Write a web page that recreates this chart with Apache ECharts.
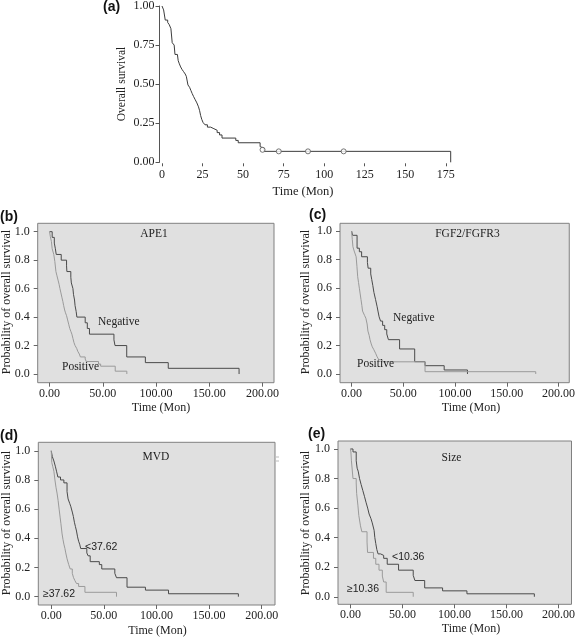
<!DOCTYPE html>
<html><head><meta charset="utf-8">
<script src="https://cdn.jsdelivr.net/npm/echarts@6/dist/echarts.min.js"></script>
<style>html,body{margin:0;padding:0;background:#fff}#c{width:578px;height:639px}</style>
</head><body><div id="c"></div>
<script>
// ---------- DATA ----------
// (a) overall survival
const aTime = [0,1,2,3.5,4.5,5.5,6.3,7.5,8,9.5,10,10.7,11.5,12.3,13.3,14.3,15,16,17,17.8,18.6,19.5,20.5,21.5,22.5,23.2,23.8,24.5,25.3,26.5,28,30,32,34,35.5,37,45.5,47,60.5,61.5,63,178];
const aSurv = [1,0.975,0.91,0.895,0.88,0.855,0.765,0.75,0.69,0.68,0.65,0.63,0.61,0.595,0.58,0.565,0.55,0.495,0.48,0.46,0.44,0.42,0.40,0.38,0.355,0.33,0.30,0.275,0.255,0.24,0.225,0.215,0.205,0.19,0.175,0.155,0.14,0.125,0.10,0.09,0.07,0];
const aCensorTime = [62,72,90,112];
const aCensorSurv = [0.08,0.07,0.07,0.07];
// (b) APE1
const bNegTime = [0,2.5,4.5,5.5,6.3,11,16,16.3,20,20.5,22,22.5,23.5,24,25,25.7,33.5,35.5,37.5,60.5,61.5,72.5,90,111.5,178];
const bNegSurv = [1,0.96,0.92,0.88,0.84,0.80,0.76,0.72,0.68,0.64,0.60,0.56,0.52,0.48,0.44,0.40,0.36,0.32,0.28,0.24,0.20,0.12,0.08,0.04,0];
const bPosTime = [0,0.8,1.8,2.5,4,5,6,7,8,9,9.8,10.7,11.6,12.5,13.3,14.2,15,16,17,18,19,20,21,22,23,24,25.5,26.5,28,29,33.5,34.5,46,48,61.7,72.6];
const bPosSurv = [1,0.965,0.93,0.88,0.84,0.79,0.72,0.69,0.66,0.63,0.60,0.57,0.54,0.51,0.48,0.45,0.43,0.41,0.38,0.35,0.32,0.30,0.28,0.25,0.22,0.20,0.18,0.16,0.14,0.12,0.105,0.088,0.07,0.055,0.02,0];
// (c) FGF2/FGFR3
const cNegTime = [0,1,5.3,7.5,9.7,15.3,16,18.5,19.5,20.5,21.6,23.2,24.7,25.5,26.6,28,30,32,34,35.6,46.4,61,71,89.5,112];
const cNegSurv = [1,0.97,0.88,0.855,0.82,0.78,0.74,0.70,0.66,0.62,0.57,0.52,0.47,0.44,0.40,0.37,0.34,0.31,0.28,0.24,0.175,0.086,0.058,0.028,0];
const cPosTime = [0,0.7,1.3,2.5,4.4,5.2,5.9,6.7,7.5,8.3,9.1,9.9,10.6,12.5,13.8,15,15.8,17,17.8,19,20,21.5,23.2,24.7,26.3,29.6,71,178];
const cPosSurv = [1,0.94,0.89,0.86,0.82,0.75,0.68,0.64,0.60,0.56,0.52,0.48,0.44,0.41,0.39,0.35,0.30,0.27,0.24,0.21,0.19,0.17,0.145,0.12,0.10,0.085,0.016,0];
// (d) MVD
const dLowTime = [0,1,2.5,4,5,6.3,8.8,12,15,16,17.5,18.5,20,21,22,23,24,25,26,27,28,33.8,35,37,45.7,48,60.4,62,72,89.5,111.4,177.8];
const dLowSurv = [1,0.96,0.93,0.89,0.86,0.82,0.80,0.78,0.72,0.67,0.64,0.62,0.58,0.55,0.51,0.48,0.45,0.41,0.38,0.36,0.33,0.30,0.28,0.24,0.22,0.19,0.16,0.13,0.065,0.045,0.02,0];
const dHighTime = [0,0.5,1.5,2.5,3.5,4.5,5.5,6.5,7.5,8.5,9.2,10.3,11.2,12,13,13.8,15,16.6,18,20,21.2,22.5,24,26,32,62];
const dHighSurv = [1,0.92,0.89,0.86,0.80,0.75,0.71,0.66,0.60,0.54,0.50,0.43,0.39,0.36,0.33,0.30,0.26,0.22,0.19,0.16,0.13,0.11,0.09,0.07,0.03,0];
// (e) Size
const eLowTime = [0,2.5,5.6,6.5,7.5,8.8,10.3,11.9,13.5,15,16.6,18,19.7,21,22.8,23.5,24.4,25.4,26.6,29,32,35.4,46.3,60.4,62,71.4,88.6,112,176.8];
const eLowSurv = [1,0.98,0.92,0.87,0.85,0.80,0.76,0.72,0.68,0.64,0.60,0.56,0.53,0.50,0.45,0.40,0.36,0.32,0.29,0.28,0.26,0.22,0.18,0.145,0.11,0.06,0.04,0.02,0];
const eHighTime = [0,0.5,1,2.5,5.6,6,7.2,8.1,9.7,11,16,16.5,22.2,24.4,27.5,30.7,32,34.4,60.4];
const eHighSurv = [1,0.98,0.92,0.80,0.77,0.70,0.62,0.55,0.48,0.44,0.37,0.30,0.26,0.22,0.18,0.14,0.10,0.03,0];
// tick labels
const aXTicks = [0,25,50,75,100,125,150,175];
const aYTicks = [0,0.25,0.5,0.75,1];
const panXTicks = [0,50,100,150,200];
const panYTicks = [0,0.2,0.4,0.6,0.8,1.0];

// ---------- CHART ----------
const zip = (t, s) => t.map((v, i) => [v, s[i]]);
const SERIF = 'Liberation Serif';
const SANS = 'Liberation Sans';
const DARK = '#4a4a4a', LIGHT = '#9a9a9a';

const panels = [
  {left:37.7, top:223.3, width:236.3, height:159.4, xmin:-11.1, xmax:210.8, ymin:-0.061, ymax:1.059},
  {left:340, top:223.3, width:234, height:159.4, xmin:-11.2, xmax:210.4, ymin:-0.061, ymax:1.054},
  {left:38.3, top:442.3, width:236.7, height:162.7, xmin:-12.3, xmax:212.6, ymin:-0.057, ymax:1.058},
  {left:338, top:441, width:236.7, height:163.3, xmin:-11.9, xmax:212.5, ymin:-0.051, ymax:1.054}
];

const grid = [{left:159.5, top:6, width:291.2, height:156.3, show:false}];
const xAxis = [{
  type:'value', gridIndex:0, min:-1.54, max:178, offset:1, position:'bottom',
  axisLine:{show:false, onZero:false}, splitLine:{show:false},
  axisTick:{show:true, length:3, customValues:aXTicks, lineStyle:{color:'#555'}},
  axisLabel:{customValues:aXTicks, margin:6, fontFamily:SERIF, fontSize:12, color:'#222'}
}];
const yAxis = [{
  type:'value', gridIndex:0, min:0, max:1, position:'left',
  axisLine:{show:true, onZero:false, lineStyle:{color:'#555'}}, splitLine:{show:false},
  axisTick:{show:true, length:4, customValues:aYTicks, lineStyle:{color:'#555'}},
  axisLabel:{customValues:aYTicks, margin:5, fontFamily:SERIF, fontSize:12, color:'#222', formatter:v=>v.toFixed(2)}
}];
panels.forEach((p, i) => {
  grid.push({left:p.left, top:p.top, width:p.width, height:p.height, show:true,
    backgroundColor:'#e0e0e0', borderColor:'#808080', borderWidth:1});
  xAxis.push({type:'value', gridIndex:i+1, min:p.xmin, max:p.xmax, position:'bottom',
    axisLine:{show:false, onZero:false}, splitLine:{show:false},
    axisTick:{show:true, length:4, customValues:panXTicks, lineStyle:{color:'#666'}},
    axisLabel:{customValues:panXTicks, margin:5, fontFamily:SERIF, fontSize:12, color:'#222', formatter:v=>v.toFixed(2)}});
  yAxis.push({type:'value', gridIndex:i+1, min:p.ymin, max:p.ymax, position:'left',
    axisLine:{show:false, onZero:false}, splitLine:{show:false},
    axisTick:{show:true, length:4, customValues:panYTicks, lineStyle:{color:'#666'}},
    axisLabel:{customValues:panYTicks, margin:8, fontFamily:SERIF, fontSize:12, color:'#222', formatter:v=>v.toFixed(1)}});
});

function km(name, idx, t, s, color) {
  return {name, type:'line', step:'end', xAxisIndex:idx, yAxisIndex:idx, data:zip(t, s),
    showSymbol:false, symbol:'none', clip:false, lineStyle:{width:1, color}, itemStyle:{color}, z:3};
}
const series = [
  km('Overall', 0, aTime, aSurv, '#3c3c3c'),
  {name:'Censored', type:'scatter', xAxisIndex:0, yAxisIndex:0, data:zip(aCensorTime, aCensorSurv),
    symbol:'circle', symbolSize:5, itemStyle:{color:'#ffffff', borderColor:'#555', borderWidth:1}, z:4},
  km('APE1 Negative', 1, bNegTime, bNegSurv, DARK),
  km('APE1 Positive', 1, bPosTime, bPosSurv, LIGHT),
  km('FGF2/FGFR3 Negative', 2, cNegTime, cNegSurv, DARK),
  km('FGF2/FGFR3 Positive', 2, cPosTime, cPosSurv, LIGHT),
  km('MVD <37.62', 3, dLowTime, dLowSurv, DARK),
  km('MVD ≥37.62', 3, dHighTime, dHighSurv, LIGHT),
  km('Size <10.36', 4, eLowTime, eLowSurv, DARK),
  km('Size ≥10.36', 4, eHighTime, eHighSurv, LIGHT)
];

function txt(x, y, text, opt) {
  opt = opt || {};
  return {type:'text', x, y, rotation:opt.rot || 0, z:10,
    style:{text, fontFamily:opt.font || SERIF, fontSize:opt.size || 12, fontWeight:opt.weight || 'normal',
      fill:opt.color || '#222', textAlign:opt.align || 'left', textVerticalAlign:'middle'}};
}
const R = Math.PI / 2;
const graphic = [
  txt(103, 7, '(a)', {font:SANS, weight:'bold', size:14, color:'#111'}),
  txt(0, 217, '(b)', {font:SANS, weight:'bold', size:14, color:'#111'}),
  txt(309, 215, '(c)', {font:SANS, weight:'bold', size:14, color:'#111'}),
  txt(0, 436, '(d)', {font:SANS, weight:'bold', size:14, color:'#111'}),
  txt(308, 434, '(e)', {font:SANS, weight:'bold', size:14, color:'#111'}),
  // axis titles
  txt(122, 84, 'Overall survival', {rot:R, align:'center', size:11.5}),
  txt(303, 192, 'Time (Mon)', {align:'center', size:12.5}),
  txt(7, 302, 'Probability of overall survival', {rot:R, align:'center'}),
  txt(306, 302, 'Probability of overall survival', {rot:R, align:'center'}),
  txt(7, 523, 'Probability of overall survival', {rot:R, align:'center'}),
  txt(306, 523, 'Probability of overall survival', {rot:R, align:'center'}),
  txt(161, 408, 'Time (Mon)', {align:'center'}),
  txt(471, 408, 'Time (Mon)', {align:'center'}),
  txt(157.5, 631, 'Time (Mon)', {align:'center'}),
  txt(471, 629, 'Time (Mon)', {align:'center'}),
  // panel titles and curve labels
  txt(154, 234, 'APE1', {align:'center', size:11.5}),
  txt(98, 322, 'Negative', {size:11.5}),
  txt(62, 367, 'Positive', {size:11.5}),
  txt(467.5, 234, 'FGF2/FGFR3', {align:'center', size:11.5}),
  txt(393, 318, 'Negative', {size:11.5}),
  txt(357, 364, 'Positive', {size:11.5}),
  txt(156, 457, 'MVD', {align:'center', size:11.5}),
  txt(85, 547, '<37.62', {font:SANS, size:10.5}),
  txt(43, 594.5, '≥37.62', {font:SANS, size:10.5}),
  txt(451.5, 458, 'Size', {align:'center', size:11.5}),
  txt(392, 557, '<10.36', {font:SANS, size:10.5}),
  txt(347, 589.5, '≥10.36', {font:SANS, size:10.5}),
  {type:'line', shape:{x1:276, y1:457, x2:279, y2:457}, style:{stroke:'#bbb', lineWidth:1}},
  {type:'line', shape:{x1:276, y1:461, x2:279, y2:461}, style:{stroke:'#bbb', lineWidth:1}}
];

const chart = echarts.init(document.getElementById('c'), null, {renderer:'canvas'});
chart.setOption({animation:false, backgroundColor:'#ffffff', grid, xAxis, yAxis, series, graphic});
</script></body></html>
